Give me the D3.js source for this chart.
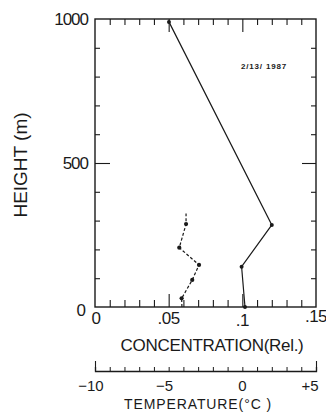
<!DOCTYPE html>
<html>
<head>
<meta charset="utf-8">
<script src="https://cdn.jsdelivr.net/npm/d3@7"></script>
<style>
  body { margin: 0; background: #fff; }
  text { font-family: 'Liberation Sans', Arial, sans-serif; fill: #1a1a1a; }
</style>
</head>
<body>
<div id="chart"></div>
<script>
// concentration profile (solid line)
const concHeights = [0, 140, 285, 990];
const concValues = [0.1018, 0.0995, 0.12, 0.0502];

// temperature profile (dashed line), ends without markers
const tempHeights = [0, 30, 94, 146, 206, 288, 325];
const tempValues = [-4.1, -4.12, -3.4, -2.94, -4.28, -3.82, -3.82];
const tempMarked = [false, true, true, true, true, true, false];

const heightLabels = [0, 500, 1000];
const concLabels = [0, 0.05, 0.1, 0.15];
const tempLabels = [-10, -5, 0, 5];

const svg = d3
  .select('#chart')
  .append('svg')
  .attr('width', 326)
  .attr('height', 412);

const x = d3.scaleLinear().domain([0, 0.15]).range([95, 316]);
const y = d3.scaleLinear().domain([0, 1000]).range([307, 19]);
const t = d3.scaleLinear().domain([-10, 5]).range([95, 316]);

const ink = '#1a1a1a';

function styleAxis(g) {
  g.select('.domain').remove();
  g.selectAll('line').attr('stroke', ink).attr('stroke-width', 1.1);
  g.selectAll('text').attr('fill', ink);
}

// minor / major tick values
const hMinor = d3.range(100, 1000, 100).filter((d) => d !== 500);
const cMinor = d3.range(1, 15).map((d) => d / 100).filter((d) => d !== 0.05 && d !== 0.1);

// left ticks (inward)
svg.append('g').attr('transform', 'translate(95,0)')
  .call(d3.axisRight(y).tickValues(hMinor).tickSize(5).tickFormat(''))
  .call(styleAxis);
svg.append('g').attr('transform', 'translate(95,0)')
  .call(d3.axisRight(y).tickValues([500]).tickSize(15).tickFormat(''))
  .call(styleAxis);
// right ticks (inward)
svg.append('g').attr('transform', 'translate(316,0)')
  .call(d3.axisLeft(y).tickValues(hMinor).tickSize(5).tickFormat(''))
  .call(styleAxis);
svg.append('g').attr('transform', 'translate(316,0)')
  .call(d3.axisLeft(y).tickValues([500]).tickSize(14).tickFormat(''))
  .call(styleAxis);
// top ticks
svg.append('g').attr('transform', 'translate(0,19)')
  .call(d3.axisBottom(x).tickValues(cMinor).tickSize(6).tickFormat(''))
  .call(styleAxis);
svg.append('g').attr('transform', 'translate(0,19)')
  .call(d3.axisBottom(x).tickValues([0.05, 0.1]).tickSize(13).tickFormat(''))
  .call(styleAxis);
// bottom ticks
svg.append('g').attr('transform', 'translate(0,307)')
  .call(d3.axisTop(x).tickValues(cMinor).tickSize(7).tickFormat(''))
  .call(styleAxis);
svg.append('g').attr('transform', 'translate(0,307)')
  .call(d3.axisTop(x).tickValues([0.05, 0.1]).tickSize(13).tickFormat(''))
  .call(styleAxis);

// frame
svg.append('rect')
  .attr('x', x(0)).attr('y', y(1000))
  .attr('width', x(0.15) - x(0)).attr('height', y(0) - y(1000))
  .attr('fill', 'none').attr('stroke', ink).attr('stroke-width', 1.4);

// height labels
svg.append('g')
  .selectAll('text')
  .data(heightLabels)
  .enter()
  .append('text')
  .attr('x', (d) => (d === 0 ? 85 : 88))
  .attr('y', (d) => y(d) + (d === 0 ? 9 : 6))
  .attr('text-anchor', 'end')
  .attr('font-size', 17)
  .attr('letter-spacing', -1)
  .text((d) => d);

// concentration labels
const concFmt = (d) => (d === 0 ? '0' : d3.format('.2~f')(d).replace(/^0/, ''));
svg.append('g')
  .selectAll('text')
  .data(concLabels)
  .enter()
  .append('text')
  .attr('x', (d) => x(d) + (d === 0 ? 1 : 0))
  .attr('y', (d) => (d === 0.1 ? 326 : d === 0.15 ? 322 : 324))
  .attr('text-anchor', 'middle')
  .attr('font-size', 17)
  .attr('letter-spacing', -0.5)
  .text(concFmt);

svg.append('text')
  .attr('x', 212)
  .attr('y', 351)
  .attr('text-anchor', 'middle')
  .attr('font-size', 17)
  .attr('letter-spacing', -0.3)
  .text('CONCENTRATION(Rel.)');

// temperature axis
svg.append('g').attr('transform', 'translate(0,371)')
  .call(d3.axisBottom(t).tickValues(d3.range(-9, 5)).tickSize(-4).tickFormat(''))
  .call((g) => g.selectAll('line').attr('stroke', ink).attr('stroke-width', 1))
  .call((g) => g.select('.domain').attr('stroke', ink).attr('stroke-width', 1.3));
svg.append('g').attr('transform', 'translate(0,371)')
  .call(d3.axisBottom(t).tickValues([-10, 5]).tickSize(-10).tickFormat(''))
  .call(styleAxis);

svg.append('g')
  .selectAll('text')
  .data(tempLabels)
  .enter()
  .append('text')
  .attr('x', (d) => t(d) + (d < 0 ? -4 : d > 0 ? -6 : 0))
  .attr('y', 391)
  .attr('text-anchor', 'middle')
  .attr('font-size', 15)
  .text((d) => (d < 0 ? '\u2212' + Math.abs(d) : d > 0 ? '+' + d : d));

svg.append('text')
  .attr('x', 198)
  .attr('y', 409)
  .attr('text-anchor', 'middle')
  .attr('font-size', 14)
  .attr('letter-spacing', 0.9)
  .text('TEMPERATURE(\u00b0C )');

// y title
svg.append('text')
  .attr('transform', 'translate(27,165) rotate(-90)')
  .attr('text-anchor', 'middle')
  .attr('font-size', 19)
  .text('HEIGHT (m)');

// date
svg.append('text')
  .attr('x', 264)
  .attr('y', 69)
  .attr('text-anchor', 'middle')
  .attr('font-size', 8)
  .attr('font-weight', 'bold')
  .attr('letter-spacing', 0.8)
  .text('2/13/ 1987');

// concentration line
const concData = concHeights.map((h, i) => ({ h, v: concValues[i] }));
svg.append('path')
  .datum(concData)
  .attr('fill', 'none')
  .attr('stroke', ink)
  .attr('stroke-width', 1.2)
  .attr('d', d3.line().x((d) => x(d.v)).y((d) => y(d.h)));
svg.append('g')
  .selectAll('circle')
  .data(concData)
  .enter()
  .append('circle')
  .attr('cx', (d) => x(d.v))
  .attr('cy', (d) => y(d.h))
  .attr('r', 2)
  .attr('fill', ink);

// temperature line
const tempData = tempHeights.map((h, i) => ({ h, v: tempValues[i], m: tempMarked[i] }));
svg.append('path')
  .datum(tempData)
  .attr('fill', 'none')
  .attr('stroke', ink)
  .attr('stroke-width', 1.2)
  .attr('stroke-dasharray', '3,2')
  .attr('d', d3.line().x((d) => t(d.v)).y((d) => y(d.h)));
svg.append('g')
  .selectAll('circle')
  .data(tempData.filter((d) => d.m))
  .enter()
  .append('circle')
  .attr('cx', (d) => t(d.v))
  .attr('cy', (d) => y(d.h))
  .attr('r', 2.1)
  .attr('fill', ink);
</script>
</body>
</html>
